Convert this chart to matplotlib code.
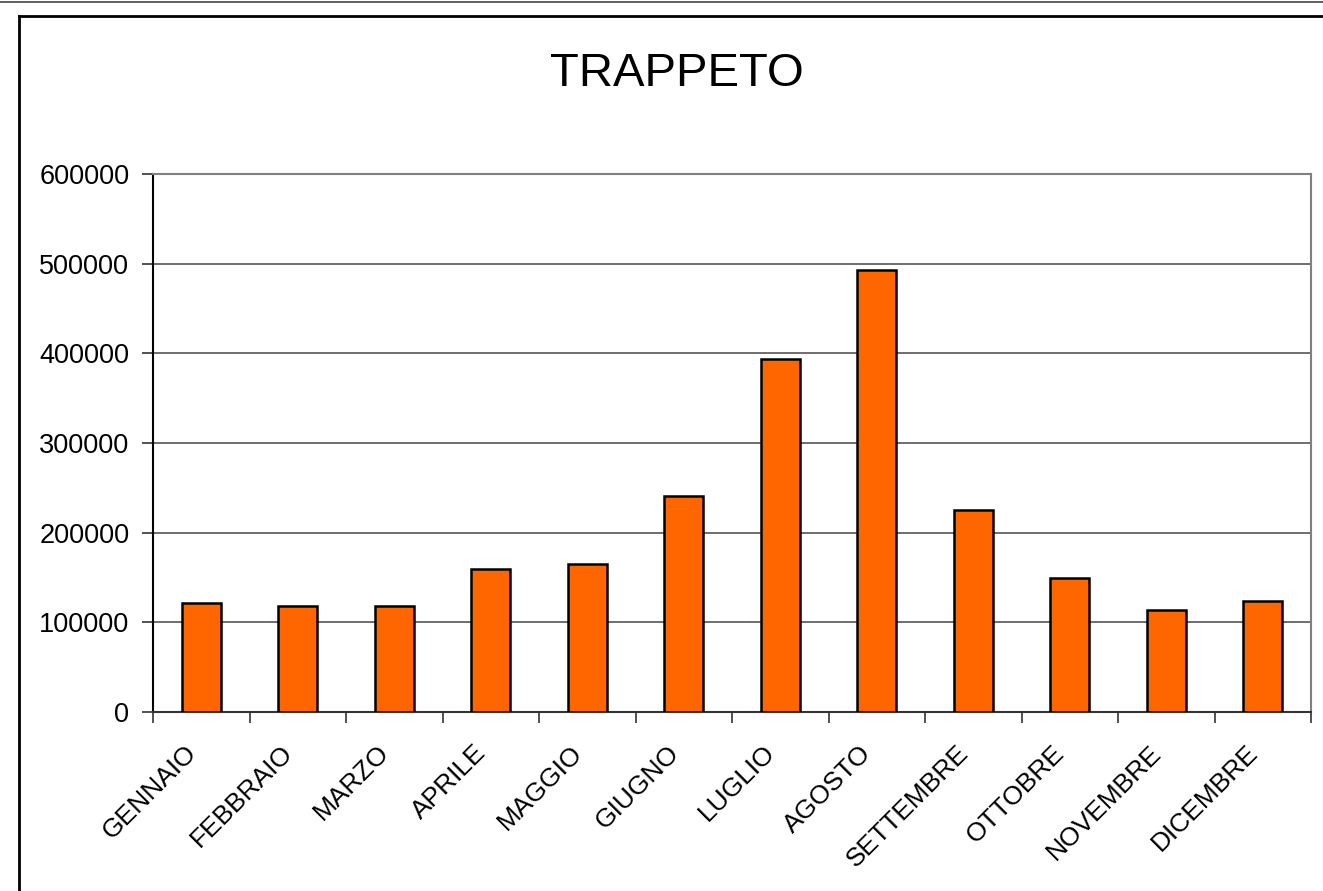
import matplotlib
matplotlib.use("Agg")
import matplotlib.pyplot as plt
from matplotlib.lines import Line2D

plt.rcParams["font.family"] = ["Liberation Sans", "DejaVu Sans"]

mesi = ["GENNAIO", "FEBBRAIO", "MARZO", "APRILE", "MAGGIO", "GIUGNO",
        "LUGLIO", "AGOSTO", "SETTEMBRE", "OTTOBRE", "NOVEMBRE", "DICEMBRE"]
presenze = [122000, 118500, 118500, 160000, 165000, 241000,
            394000, 493000, 225000, 150000, 114000, 124000]
y_ticks = [0, 100000, 200000, 300000, 400000, 500000, 600000]

fig = plt.figure(figsize=(13.23, 8.91), dpi=100)
ax = fig.add_axes([153 / 1323, 1 - 712 / 891, (1311 - 153) / 1323, (712 - 174) / 891])

x = list(range(len(mesi)))
ax.bar(x, presenze, width=0.4, color="#FF6600", edgecolor="black",
       linewidth=1.8, zorder=3)

ax.set_xlim(-0.5, len(mesi) - 0.5)
ax.set_ylim(0, 600000)
ax.set_yticks(y_ticks)
ax.set_yticklabels([str(v) for v in y_ticks], fontsize=19.5)
ax.yaxis.grid(True, color="#555555", linewidth=1.2, zorder=0)

# tick tra le categorie, etichette al centro
ax.set_xticks([i - 0.5 for i in range(len(mesi) + 1)])
ax.set_xticklabels([])
ax.tick_params(axis="x", direction="out", length=8, width=1.2, color="#333333")
ax.tick_params(axis="y", direction="out", length=8, width=1.2, color="#333333", pad=9)
for i, nome in enumerate(mesi):
    ax.text(i - 0.18, -32000, nome, rotation=45, ha="right", va="top",
            rotation_mode="anchor", fontsize=19)

for lato in ("top", "right"):
    ax.spines[lato].set_color("#808080")
    ax.spines[lato].set_linewidth(1.5)
ax.spines["left"].set_color("black")
ax.spines["left"].set_linewidth(1.5)
ax.spines["bottom"].set_color("#333333")
ax.spines["bottom"].set_linewidth(1.5)

fig.text(677 / 1323, 1 - 74 / 891, "TRAPPETO", ha="center", va="center", fontsize=34)

# cornice esterna del grafico
fig.add_artist(Line2D([0, 1], [1 - 2 / 891, 1 - 2 / 891], color="#444444", linewidth=1.2))
fig.add_artist(Line2D([19 / 1323, 1], [1 - 16 / 891, 1 - 16 / 891], color="black", linewidth=2))
fig.add_artist(Line2D([19 / 1323, 19 / 1323], [0, 1 - 16 / 891], color="black", linewidth=2))

fig.savefig("out.png", dpi=100)
